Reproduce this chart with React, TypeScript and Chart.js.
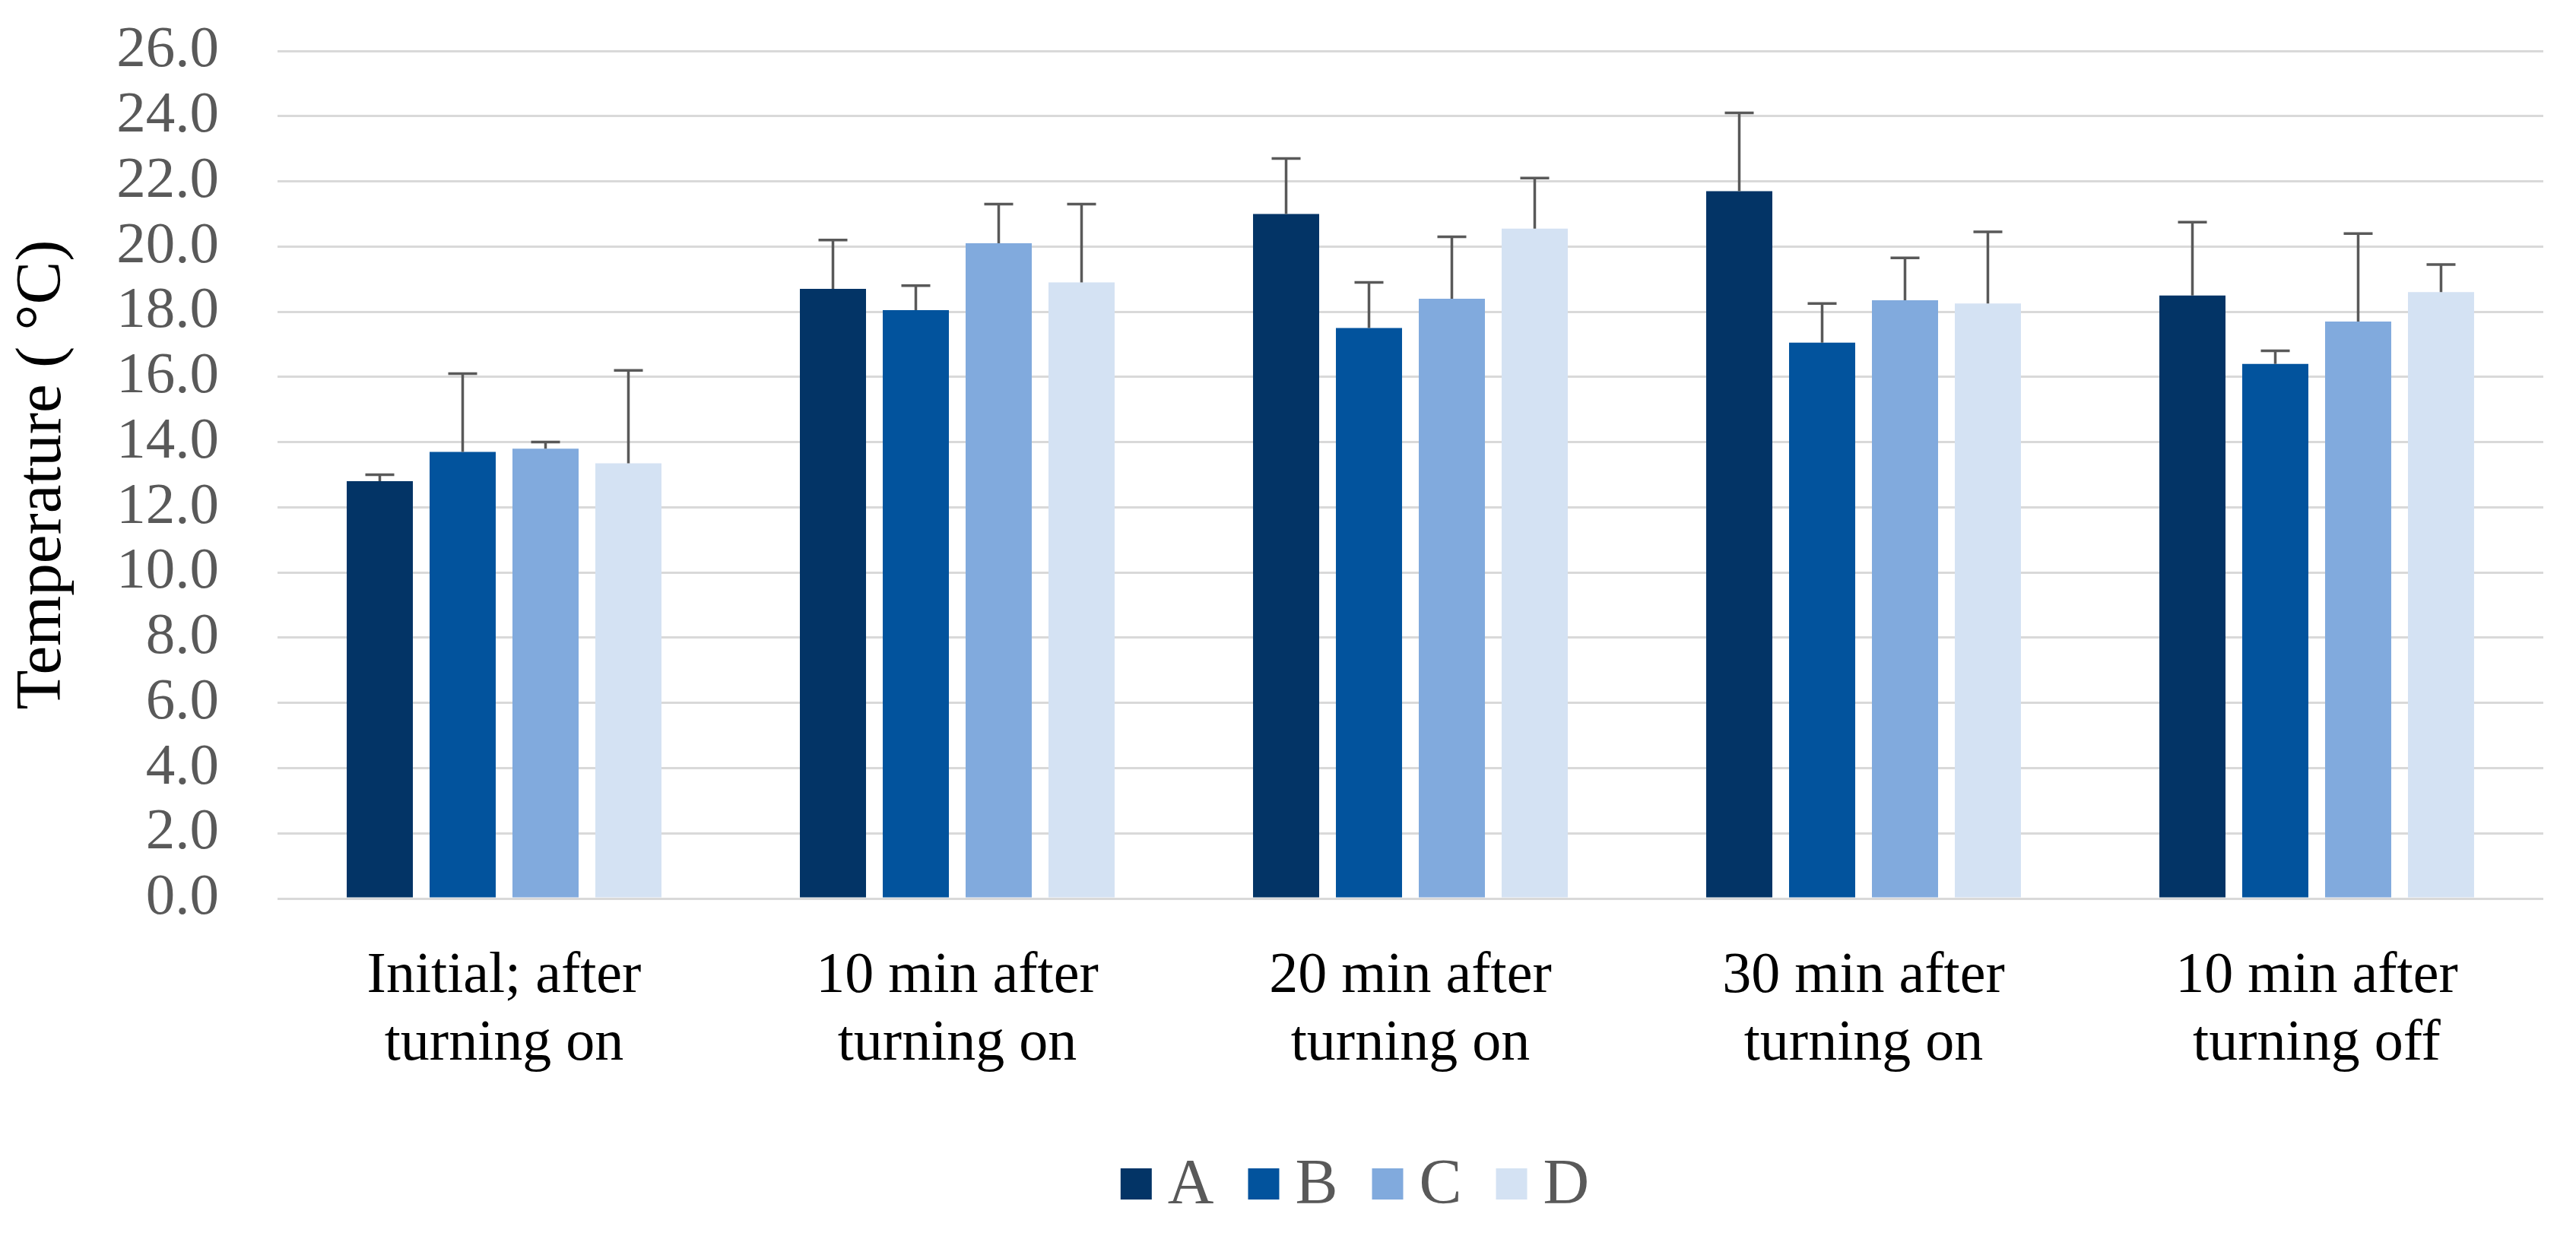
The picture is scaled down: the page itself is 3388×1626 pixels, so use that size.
import React, { useEffect, useRef } from "react";
import { Chart, registerables } from "chart.js";

Chart.register(...registerables);

const categories: string[][] = [
  ["Initial; after", "turning on"],
  ["10 min after", "turning on"],
  ["20 min after", "turning on"],
  ["30 min after", "turning on"],
  ["10 min after", "turning off"],
];

const seriesNames = ["A", "B", "C", "D"];
const seriesColors = ["#033466", "#02539D", "#81AADD", "#D4E2F3"];

const valuesA = [12.8, 18.7, 21.0, 21.7, 18.5];
const valuesB = [13.7, 18.05, 17.5, 17.05, 16.4];
const valuesC = [13.8, 20.1, 18.4, 18.35, 17.7];
const valuesD = [13.35, 18.9, 20.55, 18.25, 18.6];

const errorsA = [0.2, 1.5, 1.7, 2.4, 2.25];
const errorsB = [2.4, 0.75, 1.4, 1.2, 0.4];
const errorsC = [0.2, 1.2, 1.9, 1.3, 2.7];
const errorsD = [2.85, 2.4, 1.55, 2.2, 0.85];

const yMin = 0;
const yMax = 26;
const yStep = 2;
const yTitle = "Temperature ( °C)";

const allValues = [valuesA, valuesB, valuesC, valuesD];
const allErrors = [errorsA, errorsB, errorsC, errorsD];

const FONT = "'Liberation Serif', 'Times New Roman', serif";

const errorBarPlugin = {
  id: "errorBars",
  afterDatasetsDraw(chart: any) {
    const ctx = chart.ctx;
    const yScale = chart.scales.y;
    ctx.save();
    ctx.strokeStyle = "#595959";
    ctx.lineWidth = 3.5;
    chart.data.datasets.forEach((ds: any, i: number) => {
      const meta = chart.getDatasetMeta(i);
      const errs: number[] = ds.errors || [];
      meta.data.forEach((bar: any, j: number) => {
        const v = ds.data[j];
        const e = errs[j];
        if (v == null || e == null) return;
        const x = bar.x;
        const yTop = yScale.getPixelForValue(v + e);
        const yBase = yScale.getPixelForValue(v);
        ctx.beginPath();
        ctx.moveTo(x, yBase);
        ctx.lineTo(x, yTop);
        ctx.moveTo(x - 19, yTop);
        ctx.lineTo(x + 19, yTop);
        ctx.stroke();
      });
    });
    ctx.restore();
  },
};

const legendPlugin = {
  id: "customLegend",
  afterDraw(chart: any) {
    const ctx = chart.ctx;
    const box = 41;
    const textGap = 21;
    const itemGap = 45;
    const centerX = 1782;
    const boxTop = 1537;
    const baseline = 1583;
    ctx.save();
    ctx.font = `84px ${FONT}`;
    ctx.textBaseline = "alphabetic";
    ctx.textAlign = "left";
    const items = chart.data.datasets.map((ds: any) => ({
      label: ds.label,
      color: ds.backgroundColor,
      w: ctx.measureText(ds.label).width,
    }));
    let total = 0;
    items.forEach((it: any, i: number) => {
      total += box + textGap + it.w + (i < items.length - 1 ? itemGap : 0);
    });
    let x = centerX - total / 2;
    items.forEach((it: any) => {
      ctx.fillStyle = it.color;
      ctx.fillRect(x, boxTop, box, box);
      ctx.fillStyle = "#595959";
      ctx.fillText(it.label, x + box + textGap, baseline);
      x += box + textGap + it.w + itemGap;
    });
    ctx.restore();
  },
};

export default function App() {
  const canvasRef = useRef<HTMLCanvasElement | null>(null);

  useEffect(() => {
    document.body.style.margin = "0";
    document.body.style.overflow = "hidden";
    const canvas = canvasRef.current;
    if (!canvas) return;
    const chart = new Chart(canvas, {
      type: "bar",
      data: {
        labels: categories,
        datasets: seriesNames.map((name, i) => ({
          label: name,
          data: allValues[i],
          errors: allErrors[i],
          backgroundColor: seriesColors[i],
          borderWidth: 0,
          categoryPercentage: 0.7315,
          barPercentage: 0.798,
        })) as any,
      },
      options: {
        animation: false,
        responsive: true,
        maintainAspectRatio: false,
        devicePixelRatio: 1,
        layout: { padding: { top: 67, right: 43, bottom: 0, left: 0 } },
        plugins: {
          legend: { display: false },
          tooltip: { enabled: false },
        },
        scales: {
          x: {
            grid: { display: false, drawTicks: false },
            border: { display: false },
            ticks: {
              color: "#000000",
              font: { family: FONT, size: 76, lineHeight: 1.17 },
              padding: 59,
              maxRotation: 0,
              autoSkip: false,
            },
            afterFit(scale: any) {
              scale.height = 1626 - 1182;
            },
          },
          y: {
            min: yMin,
            max: yMax,
            grid: { color: "#D9D9D9", lineWidth: 3, drawTicks: false },
            border: { display: false },
            ticks: {
              stepSize: yStep,
              autoSkip: false,
              color: "#595959",
              font: { family: FONT, size: 77 },
              padding: 77,
              callback: (v: any) => Number(v).toFixed(1),
            },
            title: {
              display: true,
              text: yTitle,
              color: "#000000",
              font: { family: FONT, size: 85, lineHeight: 1.2 },
              padding: { top: 6, bottom: 0 },
            },
            afterFit(scale: any) {
              scale.width = 365;
              scale.paddingTop = 20;
              scale.paddingBottom = 20;
            },
          },
        },
      },
      plugins: [errorBarPlugin, legendPlugin],
    });
    return () => chart.destroy();
  }, []);

  return (
    <div style={{ width: "3388px", height: "1626px", position: "relative", background: "#ffffff" }}>
      <canvas ref={canvasRef} />
    </div>
  );
}
